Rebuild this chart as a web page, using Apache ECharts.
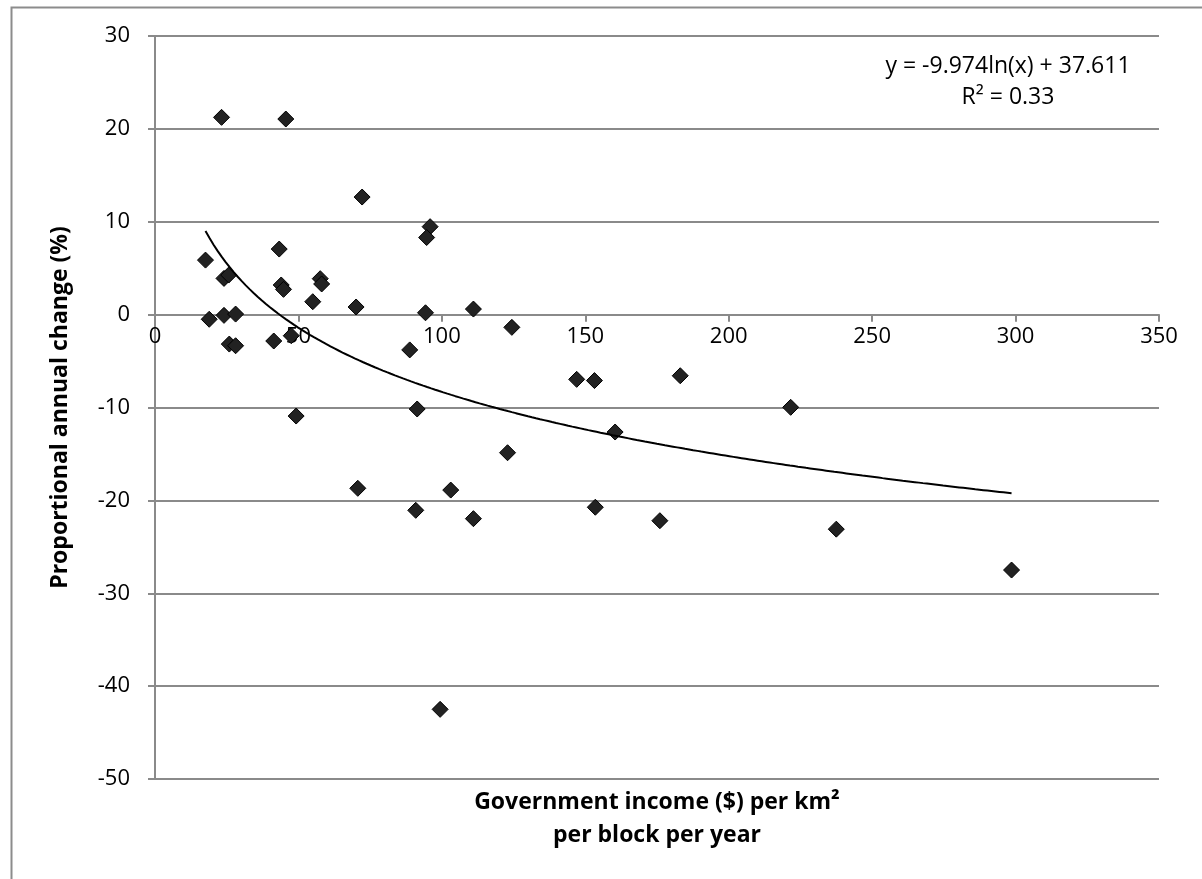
<!DOCTYPE html>
<html>
<head>
<meta charset="utf-8">
<title>Government income vs proportional annual change</title>
<script src="https://cdn.jsdelivr.net/npm/echarts@6/dist/echarts.min.js"></script>
<style>
  html, body { margin: 0; padding: 0; background: #ffffff; }
  #chart { width: 1202px; height: 879px; }
</style>
</head>
<body>
<div id="chart"></div>
<script>
// Government income ($) per km² per block per year
const incomeX = [
  17.6, 18.9, 24.05, 25.7, 24.05, 28.1, 25.9, 28.1, 23.2,
  43.3, 44.0, 44.8, 41.4, 47.5, 45.6, 49.2,
  57.6, 58.1, 55.0, 70.1, 72.2, 70.7,
  95.9, 94.7, 94.3, 88.8, 91.4, 90.9, 99.4,
  111.0, 103.1, 111.0, 124.4, 122.9,
  147.0, 153.2, 153.5, 160.4, 176.0, 183.1,
  221.6, 237.5, 298.6
];
// Proportional annual change (%)
const changeY = [
  5.87, -0.5, 3.9, 4.26, -0.08, 0.06, -3.17, -3.35, 21.24,
  7.06, 3.19, 2.72, -2.84, -2.27, 21.06, -10.92,
  3.87, 3.3, 1.39, 0.82, 12.66, -18.7,
  9.47, 8.3, 0.2, -3.8, -10.16, -21.07, -42.5,
  0.6, -18.89, -21.97, -1.37, -14.87,
  -6.97, -7.1, -20.74, -12.64, -22.19, -6.58,
  -9.98, -23.1, -27.5
];

// Logarithmic trendline coefficients: y = a·ln(x) + b
const trendA = -9.974;
const trendB = 37.611;
const trendR2 = 0.33;

// Axis settings
const xTicks = { min: 0, max: 350, interval: 50 };
const yTicks = { min: -50, max: 30, interval: 10 };

const points = incomeX.map((x, i) => [x, changeY[i]]);

// Sample the fitted curve across the observed x range
const xLo = Math.min(...incomeX);
const xHi = Math.max(...incomeX);
const trendPoints = [];
const steps = 200;
for (let i = 0; i <= steps; i++) {
  const x = xLo + (xHi - xLo) * i / steps;
  trendPoints.push([x, trendA * Math.log(x) + trendB]);
}

const FONT = '"Open Sans", "Noto Sans", sans-serif';
const gridColor = '#8a8a8a';
const GRID = { left: 155, right: 43, top: 36, bottom: 100 };

const chart = echarts.init(document.getElementById('chart'), null, { renderer: 'canvas' });

chart.setOption({
  backgroundColor: '#ffffff',
  animation: false,
  grid: Object.assign({ containLabel: false }, GRID),
  xAxis: {
    type: 'value',
    min: xTicks.min, max: xTicks.max, interval: xTicks.interval,
    axisLine: { show: true, onZero: false, lineStyle: { color: gridColor, width: 2 } },
    axisTick: { show: true, inside: false, length: 7, lineStyle: { color: gridColor, width: 2 } },
    axisLabel: { color: '#000000', fontFamily: FONT, fontSize: 22, margin: 11 },
    splitLine: { show: false }
  },
  yAxis: {
    type: 'value',
    min: yTicks.min, max: yTicks.max, interval: yTicks.interval,
    name: 'Proportional annual change (%)',
    nameLocation: 'middle',
    nameGap: 83,
    nameRotate: 90,
    nameTextStyle: { color: '#000000', fontFamily: FONT, fontSize: 23, fontWeight: 'bold' },
    axisLine: { show: true, lineStyle: { color: gridColor, width: 2 } },
    axisTick: { show: true, inside: false, length: 7, lineStyle: { color: gridColor, width: 2 } },
    axisLabel: { color: '#000000', fontFamily: FONT, fontSize: 22, margin: 25 },
    splitLine: { show: true, lineStyle: { color: gridColor, width: 2 } }
  },
  graphic: [
    {
      type: 'rect',
      left: 9, top: 5,
      shape: { width: 1210, height: 890 },
      style: { fill: 'none', stroke: '#8c8c8c', lineWidth: 2 },
      silent: true, z: -1
    },
    {
      type: 'text',
      x: 1008, y: 82,
      style: {
        text: 'y = ' + trendA + 'ln(x) + ' + trendB + '\nR² = ' + trendR2,
        fill: '#000000', font: '23px ' + FONT,
        textAlign: 'center', textVerticalAlign: 'middle', lineHeight: 31
      }
    },
    {
      type: 'text',
      x: 657, y: 819,
      style: {
        text: 'Government income ($) per km²\nper block per year',
        fill: '#000000', font: 'bold 23px ' + FONT,
        textAlign: 'center', textVerticalAlign: 'middle', lineHeight: 33
      }
    }
  ],
  series: [
    {
      name: 'Blocks',
      type: 'scatter',
      data: points,
      symbol: 'diamond',
      symbolSize: 16,
      itemStyle: { color: '#222222', borderColor: '#000000', borderWidth: 1, opacity: 1 },
      z: 3
    },
    {
      name: 'Log trend',
      type: 'line',
      data: trendPoints,
      showSymbol: false,
      smooth: false,
      lineStyle: { color: '#000000', width: 2 },
      z: 4
    }
  ]
});

// Move the x axis (line, ticks and labels) up so it crosses the y axis at 0
const zeroY = chart.convertToPixel({ yAxisIndex: 0 }, 0);
const bottomY = chart.getHeight() - GRID.bottom;
chart.setOption({ xAxis: { offset: -(bottomY - zeroY) } });
</script>
</body>
</html>
